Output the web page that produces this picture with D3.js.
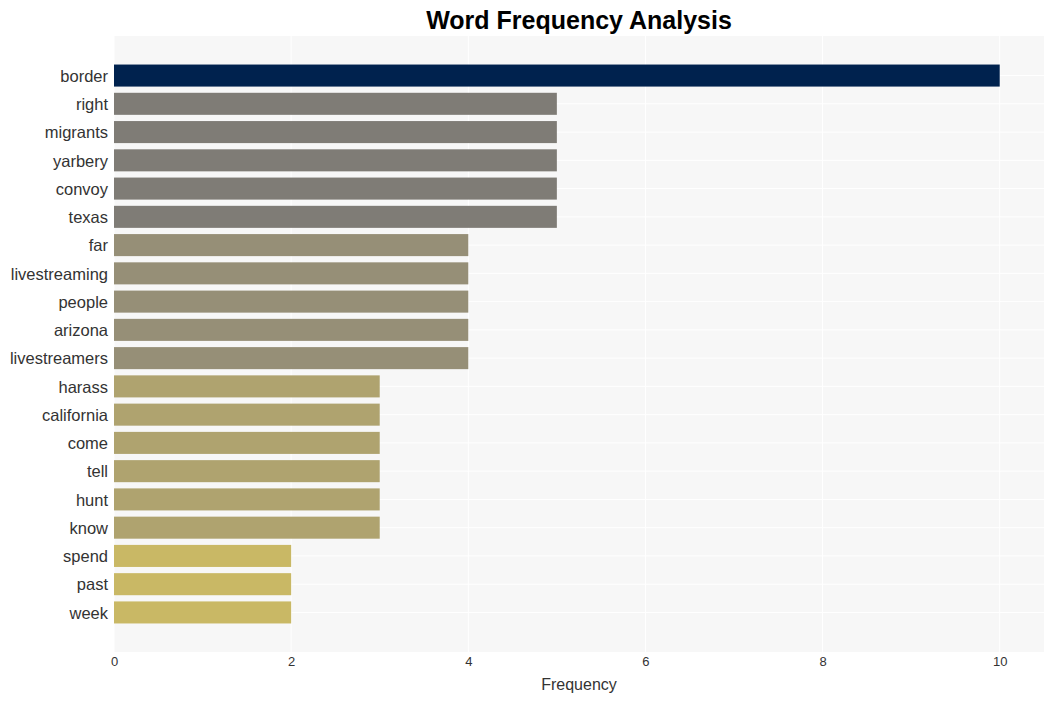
<!DOCTYPE html>
<html><head><meta charset="utf-8">
<script src="https://cdn.jsdelivr.net/npm/d3@7"></script>
<style>body{margin:0;background:#fff;}svg{display:block;font-family:"Liberation Sans",Arial,sans-serif;}</style>
</head><body><svg id="c" width="1053" height="701"></svg>
<script>
const words = ["border","right","migrants","yarbery","convoy","texas","far","livestreaming","people","arizona","livestreamers","harass","california","come","tell","hunt","know","spend","past","week"];
const counts = [10,5,5,5,5,5,4,4,4,4,4,3,3,3,3,3,3,2,2,2];
const colorByCount = {10:"#00224e",5:"#7f7c76",4:"#968f77",3:"#afa36f",2:"#c9b865"};
const xTicks = [0,2,4,6,8,10];

const svg = d3.select("#c");
const L=114, R=1044, T=36, B=652;
const x = d3.scaleLinear().domain([0,10.5]).range([L,R]);
const y = d3.scaleBand().domain(words).range([T,B]).paddingInner(0.22).paddingOuter(1.01);

svg.append("rect").attr("x",L).attr("y",T).attr("width",R-L).attr("height",B-T).attr("fill","#f7f7f7");
svg.append("g").selectAll("line").data(xTicks).join("line")
  .attr("x1",d=>x(d)).attr("x2",d=>x(d)).attr("y1",T).attr("y2",B)
  .attr("stroke","#fff").attr("stroke-width",1);
svg.append("g").selectAll("line").data(words).join("line")
  .attr("x1",L).attr("x2",R).attr("y1",d=>y(d)+y.bandwidth()/2).attr("y2",d=>y(d)+y.bandwidth()/2)
  .attr("stroke","#fff").attr("stroke-width",1);

svg.append("g").selectAll("rect").data(words).join("rect")
  .attr("x",x(0)).attr("y",d=>y(d)).attr("height",y.bandwidth())
  .attr("width",(d,i)=>x(counts[i])-x(0))
  .attr("fill",(d,i)=>colorByCount[counts[i]]);

const ya = svg.append("g").attr("transform",`translate(${L},1)`).call(d3.axisLeft(y).tickSize(0).tickPadding(6));
ya.select(".domain").remove();
ya.selectAll("text").attr("font-size",16.5).attr("fill","#333").attr("font-family","Liberation Sans, Arial, sans-serif");

const xa = svg.append("g").attr("transform",`translate(0,${B})`).call(d3.axisBottom(x).tickValues(xTicks).tickSize(0).tickPadding(5).tickFormat(d3.format("d")));
xa.select(".domain").remove();
xa.selectAll("text").attr("font-size",13).attr("fill","#333").attr("font-family","Liberation Sans, Arial, sans-serif");

svg.append("text").attr("x",(L+R)/2).attr("y",690).attr("text-anchor","middle")
  .attr("font-size",16).attr("fill","#333").text("Frequency");
svg.append("text").attr("x",(L+R)/2).attr("y",29).attr("text-anchor","middle")
  .attr("font-size",25).attr("font-weight","bold").attr("fill","#000").text("Word Frequency Analysis");
</script></body></html>
